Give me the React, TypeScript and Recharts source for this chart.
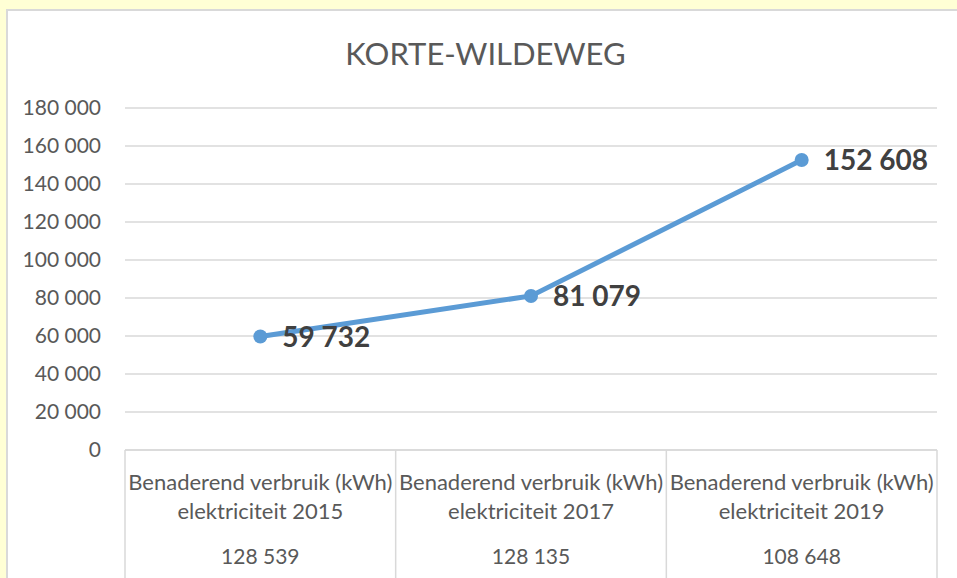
import React from "react";
import { LineChart, Line, XAxis, YAxis, CartesianGrid, LabelList } from "recharts";

const categories = [
  "Benaderend verbruik (kWh)|elektriciteit 2015",
  "Benaderend verbruik (kWh)|elektriciteit 2017",
  "Benaderend verbruik (kWh)|elektriciteit 2019",
];
const seriesValues = [59732, 81079, 152608];
const tableValues = ["128 539", "128 135", "108 648"];
const yTicks = [0, 20000, 40000, 60000, 80000, 100000, 120000, 140000, 160000, 180000];
const title = "KORTE-WILDEWEG";

const data = categories.map((c, i) => ({ name: c, value: seriesValues[i], table: tableValues[i] }));

const W = 957;
const H = 578;
const M = { top: 108, right: 20, bottom: 0, left: 25 };
const Y_W = 100;
const FONT = "Lato, 'Open Sans', sans-serif";

const fmt = (v: number) => v.toLocaleString("en-US").replace(/,/g, " ");

const plotW = W - M.left - M.right - Y_W;
const halfBand = plotW / categories.length / 2;

const XTick = (props: any) => {
  const { x, y, payload, index } = props;
  const lines = String(payload.value).split("|");
  const last = index === categories.length - 1;
  return (
    <g>
      <line x1={x - halfBand} y1={y} x2={x - halfBand} y2={y + 140} stroke="#d9d9d9" strokeWidth={1.5} />
      {last && <line x1={x + halfBand} y1={y} x2={x + halfBand} y2={y + 140} stroke="#d9d9d9" strokeWidth={1.5} />}
      <text x={x} y={y + 40} textAnchor="middle" fill="#595959" fontSize={22} fontFamily={FONT}>{lines[0]}</text>
      <text x={x} y={y + 69} textAnchor="middle" fill="#595959" fontSize={22} fontFamily={FONT}>{lines[1]}</text>
      <text x={x} y={y + 114} textAnchor="middle" fill="#595959" fontSize={21} fontFamily={FONT}>{tableValues[index]}</text>
    </g>
  );
};

const DataLabel = (props: any) => {
  const { x, y, value } = props;
  return (
    <text x={x + 22} y={y + 10} textAnchor="start" fill="#404040" fontSize={28} fontWeight="bold" fontFamily={FONT}>
      {fmt(value)}
    </text>
  );
};

export default function App() {
  return (
    <div style={{ position: "fixed", left: 0, top: 0, width: W, height: H, background: "#FFFFD5", overflow: "hidden" }}>
      <div style={{ position: "absolute", left: 6, top: 9, width: W + 20, height: H + 20, background: "#fff", border: "2px solid #d9d9d9", boxSizing: "border-box" }} />
      <div style={{ position: "absolute", left: 0, top: 0 }}>
        <LineChart width={W} height={H} data={data} margin={M}>
          <CartesianGrid vertical={false} stroke="#d9d9d9" strokeWidth={1.5} />
          <XAxis
            dataKey="name"
            scale="band"
            height={H - M.top - 342}
            tick={<XTick />}
            tickLine={false}
            tickSize={0}
            tickMargin={0}
            axisLine={{ stroke: "#d9d9d9", strokeWidth: 1.5 }}
            interval={0}
          />
          <YAxis
            width={Y_W}
            domain={[0, 180000]}
            ticks={yTicks}
            tickFormatter={fmt}
            axisLine={false}
            tickLine={false}
            tickSize={0}
            tickMargin={24}
            tick={{ fill: "#595959", fontSize: 21, fontFamily: FONT }}
          />
          <Line
            type="linear"
            dataKey="value"
            stroke="#5B9BD5"
            strokeWidth={5}
            dot={{ r: 7, fill: "#5B9BD5", stroke: "none" }}
            isAnimationActive={false}
          >
            <LabelList dataKey="value" content={<DataLabel />} />
          </Line>
        </LineChart>
      </div>
      <div style={{ position: "absolute", left: 7, width: W, top: 33, textAlign: "center", fontFamily: FONT, fontSize: 31, color: "#595959", lineHeight: "40px" }}>
        {title}
      </div>
    </div>
  );
}
